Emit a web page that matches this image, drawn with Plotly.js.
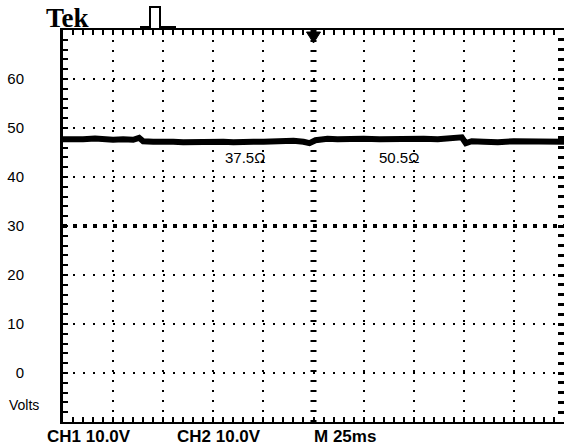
<!DOCTYPE html>
<html>
<head>
<meta charset="utf-8">
<script src="https://cdn.plot.ly/plotly-3.0.1.min.js"></script>
<style>html,body{margin:0;padding:0;background:#fff;}#chart{width:566px;height:446px;}</style>
</head>
<body>
<div id="chart"></div>
<script>
// time in ms (25 ms/div), voltage in V (10 V/div)
const timeMs = [0,5,10,16,20,25,30,35,38,40,45,50,55,60,65,70,75,80,85,90,95,100,105,110,115,120,123,126,129,132,137,142,150,158,165,172,180,187,193,199,201,204,210,217,225,232,240,245,250];
const volts  = [47.7,47.6,47.7,47.85,47.7,47.6,47.7,47.6,48.0,47.3,47.2,47.3,47.2,47.1,47.2,47.3,47.2,47.2,47.1,47.3,47.2,47.2,47.3,47.2,47.4,47.2,46.9,47.5,47.7,47.8,47.7,47.8,47.8,47.7,47.8,47.7,47.8,47.7,47.8,48.1,46.9,47.3,47.2,47.1,47.3,47.2,47.2,47.1,47.2];
const yTickVals = [-10,0,10,20,30,40,50,60,70];
const yTickText = ['','0','10','20','30','40','50','60',''];
const loadLabels = ['37.5Ω','50.5Ω'];
const loadLabelX = [91,167.6];
const loadLabelY = 43.9;
const footer = ['CH1 10.0V','CH2 10.0V','M 25ms'];

const W = 501, H = 392, L = 63, T = 30;
const px = x => (x - L) / W;
const py = y => (T + H - y) / H;

const trace = {
  x: timeMs, y: volts, type: 'scatter', mode: 'lines',
  line: {color: '#000', width: 6}, hoverinfo: 'skip', showlegend: false
};

const annFont = {family: 'Liberation Sans, Arial, sans-serif', color: '#000'};
const annotations = [
  {xref:'paper', yref:'paper', x:px(44), y:py(18), xanchor:'left', yanchor:'middle', text:'<b>Tek</b>', showarrow:false,
   font:{family:'Liberation Serif, Times New Roman, serif', size:27, color:'#000'}},
  {xref:'paper', yref:'paper', x:px(24), y:py(405), xanchor:'center', yanchor:'middle', text:'Volts', showarrow:false,
   font:Object.assign({size:14}, annFont)},
  {xref:'paper', yref:'paper', x:px(45), y:py(436), xanchor:'left', yanchor:'middle', text:'<b>'+footer[0]+'</b>', showarrow:false, font:Object.assign({size:17}, annFont)},
  {xref:'paper', yref:'paper', x:px(175), y:py(436), xanchor:'left', yanchor:'middle', text:'<b>'+footer[1]+'</b>', showarrow:false, font:Object.assign({size:17}, annFont)},
  {xref:'paper', yref:'paper', x:px(312), y:py(436), xanchor:'left', yanchor:'middle', text:'<b>'+footer[2]+'</b>', showarrow:false, font:Object.assign({size:17}, annFont)}
];
loadLabels.forEach((t, i) => annotations.push({
  x: loadLabelX[i], y: loadLabelY, xref:'x', yref:'y', text: t, showarrow:false,
  font: Object.assign({size:15}, annFont)
}));

const shapes = [
  {type:'line', xref:'x', yref:'y', x0:125, x1:125, y0:-10, y1:70, line:{color:'#000', width:6, dash:'2px,8px'}},
  {type:'line', xref:'x', yref:'y', x0:0, x1:250, y0:30, y1:30, line:{color:'#000', width:4, dash:'4px,6px'}},
  {type:'path', xref:'x', yref:'paper', path:'M 121.5,'+py(32)+' L 128.5,'+py(32)+' L 125,'+py(43)+' Z', fillcolor:'#000', line:{color:'#000', width:1}},
  {type:'path', xref:'paper', yref:'paper',
   path:'M '+px(140)+','+py(27)+' L '+px(150)+','+py(27)+' L '+px(150)+','+py(7)+' L '+px(160)+','+py(7)+' L '+px(160)+','+py(27)+' L '+px(176)+','+py(27),
   line:{color:'#000', width:2}}
];

const tickFont = {family:'Liberation Sans, Arial, sans-serif', size:15, color:'#000'};
const layout = {
  width:566, height:446,
  margin:{l:L, r:566-L-W, t:T, b:446-T-H, pad:0},
  paper_bgcolor:'#fff', plot_bgcolor:'#fff',
  showlegend:false,
  xaxis:{range:[0,250], tickmode:'linear', tick0:0, dtick:25, showticklabels:false,
    showline:true, linecolor:'#000', linewidth:2, mirror:'allticks',
    ticks:'inside', ticklen:5, tickwidth:2, tickcolor:'#000',
    showgrid:true, gridcolor:'#000', gridwidth:2, griddash:'2px,8px', zeroline:false,
    minor:{tick0:0, dtick:5, ticks:'inside', ticklen:5, tickwidth:2, tickcolor:'#000', showgrid:false},
    fixedrange:true},
  yaxis:{range:[-10,70], tickmode:'array', tickvals:yTickVals, ticktext:yTickText, tickfont:tickFont,
    showline:true, linecolor:'#000', linewidth:3, mirror:false,
    ticks:'inside', ticklen:5, tickwidth:2, tickcolor:'#000', ticklabelstandoff:33,
    showgrid:true, gridcolor:'#000', gridwidth:2, griddash:'2px,8px', zeroline:false,
    minor:{tick0:0, dtick:2, ticks:'inside', ticklen:5, tickwidth:2, tickcolor:'#000', showgrid:false},
    fixedrange:true},
  yaxis2:{range:[-10,70], overlaying:'y', side:'right', anchor:'x', showline:false, showgrid:false, zeroline:false,
    showticklabels:false, tickmode:'linear', tick0:0, dtick:10,
    ticks:'inside', ticklen:6, tickwidth:3, tickcolor:'#000',
    minor:{tick0:0, dtick:2, ticks:'inside', ticklen:6, tickwidth:3, tickcolor:'#000', showgrid:false},
    fixedrange:true},
  annotations:annotations,
  shapes:shapes
};

Plotly.newPlot('chart', [trace, {x:[0], y:[-20], yaxis:'y2', type:'scatter', mode:'markers', marker:{opacity:0}, hoverinfo:'skip', showlegend:false}], layout, {staticPlot:true, displayModeBar:false});
</script>
</body>
</html>
